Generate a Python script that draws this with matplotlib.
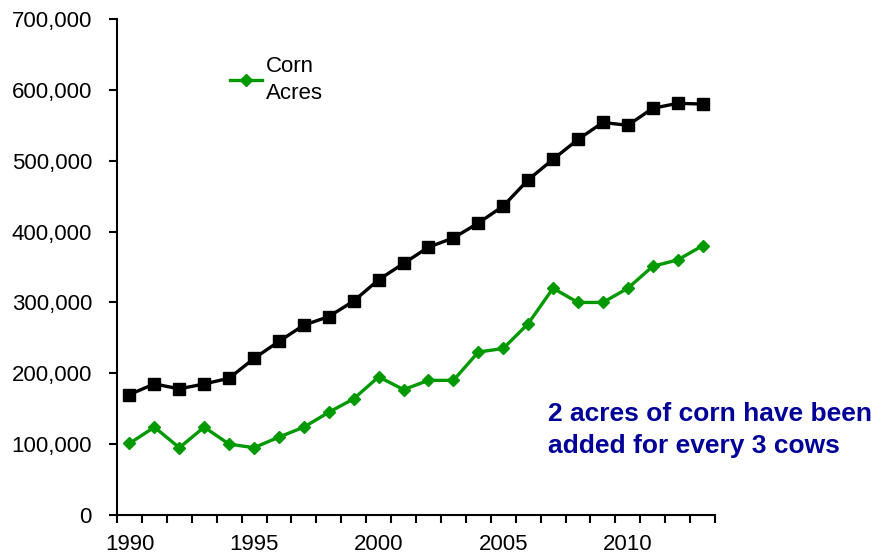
import numpy as np
import matplotlib.pyplot as plt
from matplotlib.ticker import FuncFormatter, MultipleLocator

plt.rcParams['font.family'] = ['Liberation Sans', 'DejaVu Sans']

years = list(range(1990, 2014))
cows = [170000, 185000, 178000, 185000, 193000, 221000, 245000, 268000,
        280000, 302000, 332000, 355000, 378000, 391000, 412000, 436000,
        473000, 502000, 530000, 554000, 550000, 574000, 581000, 580000]
corn_acres = [101000, 124000, 95000, 124000, 100000, 95000, 110000, 124000,
              145000, 164000, 195000, 177000, 190000, 190000, 230000, 235000,
              270000, 320000, 300000, 300000, 320000, 351000, 360000, 380000]
year_labels = [1990, 1995, 2000, 2005, 2010]
note = "2 acres of corn have been\nadded for every 3 cows"

fig = plt.figure(figsize=(8.81, 5.59), dpi=100)
ax = fig.add_axes([0.1328, 0.0787, 0.6788, 0.8873])

ax.plot(years, cows, color='black', lw=2.4, marker='s', ms=8.5,
        label='_nolegend_')
ax.plot(years, corn_acres, color='#009900', lw=2.4, marker='D', ms=6.5,
        label='Corn\nAcres')

ax.set_xlim(1989.5, 2013.5)
ax.set_ylim(0, 700000)
ax.set_xticks(year_labels)
ax.xaxis.set_minor_locator(MultipleLocator(1, offset=0.5))
ax.tick_params(axis='x', which='major', length=0, pad=14, labelsize=16)
ax.tick_params(axis='x', which='minor', length=6, width=1.5, direction='out')
ax.yaxis.set_major_locator(MultipleLocator(100000))
ax.yaxis.set_major_formatter(FuncFormatter(lambda v, p: f"{int(v):,}"))
ax.tick_params(axis='y', length=6, width=1.5, direction='out', labelsize=16, pad=12)

for side in ['top', 'right']:
    ax.spines[side].set_visible(False)
for side in ['left', 'bottom']:
    ax.spines[side].set_linewidth(1.5)

leg = ax.legend(loc='upper left', bbox_to_anchor=(0.155, 0.965), frameon=False,
                fontsize=16, handlelength=1.45, handletextpad=0.2, markerscale=0.9)
for t in leg.get_texts():
    t.set_linespacing(1.35)

ax.text(0.72, 0.171, note, transform=ax.transAxes, color='#000099',
        fontsize=19, fontweight='bold', ha='left', va='center',
        linespacing=1.4)

fig.savefig('out.png', dpi=100)
